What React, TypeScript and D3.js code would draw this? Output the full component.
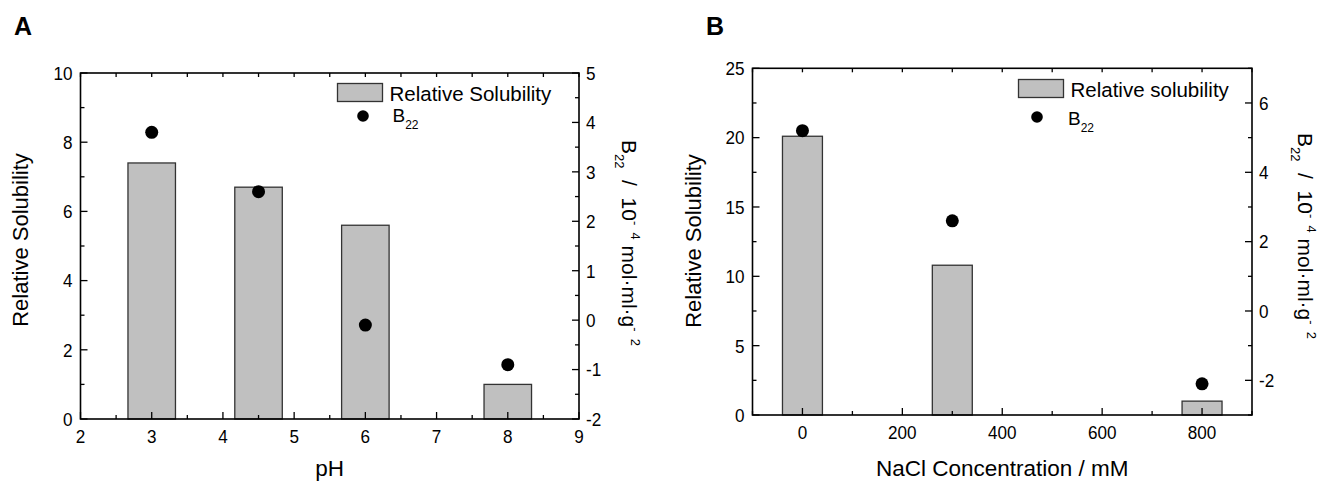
import React from "react";
import * as d3 from "d3";

// ---------- Data ----------
const phValues = [3, 4.5, 6, 8];
const phSolubility = [7.4, 6.7, 5.6, 1.0];
const phB22 = [3.8, 2.6, -0.1, -0.9];

const naclValues = [0, 300, 800];
const naclSolubility = [20.1, 10.8, 1.0];
const naclB22 = [5.2, 2.6, -2.1];

const phXTicks = [2, 3, 4, 5, 6, 7, 8, 9];
const phLeftTicks = [0, 2, 4, 6, 8, 10];
const phRightTicks = [-2, -1, 0, 1, 2, 3, 4, 5];
const naclXTicks = [0, 200, 400, 600, 800];
const naclLeftTicks = [0, 5, 10, 15, 20, 25];
const naclRightTicks = [-2, 0, 2, 4, 6];

const FONT = "'Liberation Sans', Arial, Helvetica, sans-serif";

type PanelProps = {
  letter: string;
  letterX: number;
  left: number;
  right: number;
  top: number;
  bottom: number;
  xDomain: [number, number];
  yLDomain: [number, number];
  yRDomain: [number, number];
  xTicks: number[];
  xMinorStep: number;
  leftTicks: number[];
  leftMinorStep: number;
  rightTicks: number[];
  rightMinorStep: number;
  xs: number[];
  bars: number[];
  dots: number[];
  barWidth: number;
  xTitle: string;
  legendLabel: string;
  legendX: number;
  legendY: number;
  legDotX: number;
  legDotY: number;
  legBX: number;
  legBY: number;
  yTitleX: number;
  yTitleCY: number;
  rTitleX: number;
  rTitleCY: number;
};

function minorRange(domain: [number, number], step: number) {
  const out: number[] = [];
  const start = Math.ceil(domain[0] / step - 1e-9) * step;
  for (let v = start; v <= domain[1] + 1e-9; v += step) out.push(+v.toFixed(6));
  return out;
}

const TICK_FS = 19;
const TICK_SX = 0.9;

function TickLabel({ x, y, anchor, dy, children }: { x: number; y: number; anchor: string; dy: string; children: React.ReactNode }) {
  return (
    <g transform={`translate(${x},${y}) scale(${TICK_SX},1)`}>
      <text textAnchor={anchor as any} dy={dy} fontSize={TICK_FS}>{children}</text>
    </g>
  );
}

function Panel(p: PanelProps) {
  const x = d3.scaleLinear().domain(p.xDomain).range([p.left, p.right]);
  const yL = d3.scaleLinear().domain(p.yLDomain).range([p.bottom, p.top]);
  const yR = d3.scaleLinear().domain(p.yRDomain).range([p.bottom, p.top]);
  const major = 7;
  const minor = 4;
  const xMinor = minorRange(p.xDomain, p.xMinorStep);
  const lMinor = minorRange(p.yLDomain, p.leftMinorStep);
  const rMinor = minorRange(p.yRDomain, p.rightMinorStep);
  const isMajor = (arr: number[], v: number) => arr.some((t) => Math.abs(t - v) < 1e-6);
  const cx = (p.left + p.right) / 2;

  return (
    <g fontFamily={FONT} fill="#000">
      <text x={p.letterX} y={35} fontSize={25} fontWeight="bold">{p.letter}</text>

      {/* bars */}
      {p.xs.map((v, i) => (
        <rect
          key={"b" + i}
          x={x(v - p.barWidth / 2)}
          y={yL(p.bars[i])}
          width={x(v + p.barWidth / 2) - x(v - p.barWidth / 2)}
          height={yL(0) - yL(p.bars[i])}
          fill="#c0c0c0"
          stroke="#333"
          strokeWidth={1.3}
        />
      ))}

      {/* frame */}
      <rect x={p.left} y={p.top} width={p.right - p.left} height={p.bottom - p.top} fill="none" stroke="#000" strokeWidth={1.6} />

      {/* x ticks bottom & top */}
      {xMinor.map((v, i) => {
        const len = isMajor(p.xTicks, v) ? major : minor;
        return (
          <g key={"xt" + i} stroke="#000" strokeWidth={1.3}>
            <line x1={x(v)} x2={x(v)} y1={p.bottom} y2={p.bottom - len} />
            <line x1={x(v)} x2={x(v)} y1={p.top} y2={p.top + minor} />
          </g>
        );
      })}
      {p.xTicks.map((v) => (
        <TickLabel key={"xl" + v} x={x(v)} y={p.bottom + 24} anchor="middle" dy="0">{v}</TickLabel>
      ))}

      {/* left ticks */}
      {lMinor.map((v, i) => (
        <line key={"lt" + i} x1={p.left} x2={p.left + (isMajor(p.leftTicks, v) ? major : minor)} y1={yL(v)} y2={yL(v)} stroke="#000" strokeWidth={1.3} />
      ))}
      {p.leftTicks.map((v) => (
        <TickLabel key={"ll" + v} x={p.left - 8} y={yL(v)} anchor="end" dy="0.36em">{v}</TickLabel>
      ))}

      {/* right ticks */}
      {rMinor.map((v, i) => (
        <line key={"rt" + i} x1={p.right} x2={p.right - (isMajor(p.rightTicks, v) ? major : minor)} y1={yR(v)} y2={yR(v)} stroke="#000" strokeWidth={1.3} />
      ))}
      {p.rightTicks.map((v) => (
        <TickLabel key={"rl" + v} x={p.right + 7} y={yR(v)} anchor="start" dy="0.36em">{v}</TickLabel>
      ))}

      {/* dots */}
      {p.xs.map((v, i) => (
        <circle key={"d" + i} cx={x(v)} cy={yR(p.dots[i])} r={6.5} fill="#000" />
      ))}

      {/* legend */}
      <rect x={p.legendX} y={p.legendY} width={45} height={18} fill="#c0c0c0" stroke="#333" strokeWidth={1.3} />
      <text x={p.legendX + 52} y={p.legendY + 17} fontSize={20.5}>{p.legendLabel}</text>
      <circle cx={p.legDotX} cy={p.legDotY} r={5.8} fill="#000" />
      <text x={p.legBX} y={p.legBY} fontSize={19}>
        B<tspan fontSize={12} dy={7}>22</tspan>
      </text>

      {/* axis titles */}
      <text x={cx} y={476} fontSize={22.5} textAnchor="middle">{p.xTitle}</text>
      <text transform={`translate(${p.yTitleX},${p.yTitleCY}) rotate(-90)`} fontSize={22} textAnchor="middle">Relative Solubility</text>
      <text transform={`translate(${p.rTitleX},${p.rTitleCY}) rotate(90)`} fontSize={21} textAnchor="middle" style={{ whiteSpace: "pre" }}>
        B<tspan fontSize={13} dy={7}>22</tspan>
        <tspan dy={-7}>{"  /  10"}</tspan>
        <tspan fontSize={13} dy={-9}>{"-  4"}</tspan>
        <tspan dy={9}>{" mol·ml·g"}</tspan>
        <tspan fontSize={13} dy={-9}>{"-  2"}</tspan>
      </text>
    </g>
  );
}

export default function App() {
  return (
    <svg width={1323} height={483} style={{ position: "absolute", left: 0, top: 0, background: "#fff" }}>
      <rect x={0} y={0} width={1323} height={483} fill="#fff" />
      <Panel
        letter="A"
        letterX={14}
        left={80.5}
        right={579}
        top={73}
        bottom={419}
        xDomain={[2, 9]}
        yLDomain={[0, 10]}
        yRDomain={[-2, 5]}
        xTicks={phXTicks}
        xMinorStep={0.5}
        leftTicks={phLeftTicks}
        leftMinorStep={1}
        rightTicks={phRightTicks}
        rightMinorStep={0.5}
        xs={phValues}
        bars={phSolubility}
        dots={phB22}
        barWidth={0.667}
        xTitle="pH"
        legendLabel="Relative Solubility"
        legendX={337.5}
        legendY={83.5}
        legDotX={363}
        legDotY={116}
        legBX={392.5}
        legBY={122}
        yTitleX={28}
        yTitleCY={240}
        rTitleX={622}
        rTitleCY={243}
      />
      <Panel
        letter="B"
        letterX={706}
        left={752.5}
        right={1252}
        top={68.3}
        bottom={415}
        xDomain={[-100, 900]}
        yLDomain={[0, 25]}
        yRDomain={[-3, 7]}
        xTicks={naclXTicks}
        xMinorStep={100}
        leftTicks={naclLeftTicks}
        leftMinorStep={2.5}
        rightTicks={naclRightTicks}
        rightMinorStep={1}
        xs={naclValues}
        bars={naclSolubility}
        dots={naclB22}
        barWidth={80}
        xTitle="NaCl Concentration / mM"
        legendLabel="Relative solubility"
        legendX={1018.5}
        legendY={79.5}
        legDotX={1037}
        legDotY={117}
        legBX={1068}
        legBY={124.5}
        yTitleX={701}
        yTitleCY={241}
        rTitleX={1298}
        rTitleCY={236}
      />
    </svg>
  );
}
